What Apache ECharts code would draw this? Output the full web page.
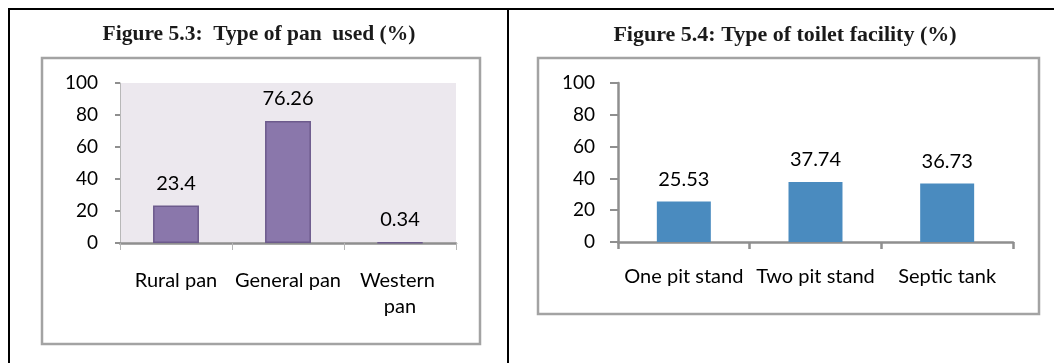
<!DOCTYPE html>
<html>
<head>
<meta charset="utf-8">
<script src="https://cdn.jsdelivr.net/npm/echarts@6/dist/echarts.min.js"></script>
<style>
  html, body { margin: 0; padding: 0; background: #fff; }
  #chart { width: 1054px; height: 363px; }
</style>
</head>
<body>
<div id="chart"></div>
<script>
// Figure 5.3: type of pan used (%)
const panCategories = ['Rural pan', 'General pan', 'Western pan'];
const panValues = [23.4, 76.26, 0.34];

// Figure 5.4: type of toilet facility (%)
const toiletCategories = ['One pit stand', 'Two pit stand', 'Septic tank'];
const toiletValues = [25.53, 37.74, 36.73];

const yTicks = [0, 20, 40, 60, 80, 100];

const labelFont = 'Lato, "Open Sans", sans-serif';
const titleFont = '"Liberation Serif", "DejaVu Serif", serif';
const axisGray = '#8f8f8f';

const chart = echarts.init(document.getElementById('chart'), null, { renderer: 'canvas' });

function valueAxis(gridIndex, opts) {
  return {
    type: 'value',
    gridIndex: gridIndex,
    min: yTicks[0],
    max: yTicks[yTicks.length - 1],
    interval: yTicks[1] - yTicks[0],
    splitLine: { show: false },
    axisLine: { show: true, lineStyle: { color: opts.lineColor, width: opts.lineWidth } },
    axisTick: { show: true, length: opts.tickLen, lineStyle: { color: axisGray, width: 2 } },
    axisLabel: {
      margin: opts.margin,
      color: '#000',
      fontFamily: labelFont,
      fontSize: 19
    }
  };
}

function categoryAxis(gridIndex, data, opts) {
  return {
    type: 'category',
    gridIndex: gridIndex,
    data: data,
    axisLine: { show: true, lineStyle: { color: axisGray, width: 2.5 } },
    axisTick: { show: true, length: 7, lineStyle: { color: opts.tickColor, width: opts.tickWidth } },
    axisLabel: {
      margin: opts.margin,
      color: '#000',
      fontFamily: labelFont,
      fontSize: 20,
      lineHeight: 26,
      width: opts.labelWidth,
      overflow: 'break',
      interval: 0
    }
  };
}

function valueLabel() {
  return {
    show: true,
    position: 'top',
    distance: 12,
    color: '#000',
    fontFamily: labelFont,
    fontSize: 20
  };
}

chart.setOption({
  animation: false,
  grid: [
    { left: 120, right: 598, top: 83, bottom: 120, show: true, backgroundColor: '#ece8ee', borderWidth: 0 },
    { left: 618, right: 41, top: 83, bottom: 121 }
  ],
  xAxis: [
    categoryAxis(0, panCategories, { margin: 25, labelWidth: 110, tickColor: '#b5b5b5', tickWidth: 1 }),
    categoryAxis(1, toiletCategories, { margin: 22, labelWidth: 140, tickColor: axisGray, tickWidth: 2.5 })
  ],
  yAxis: [
    valueAxis(0, { lineColor: '#b8b8b8', lineWidth: 1, tickLen: 5, margin: 22 }),
    valueAxis(1, { lineColor: axisGray, lineWidth: 2.5, tickLen: 8, margin: 23 })
  ],
  series: [
    {
      type: 'bar',
      xAxisIndex: 0,
      yAxisIndex: 0,
      data: panValues,
      barWidth: '41%',
      itemStyle: { color: '#8a77ab', borderColor: '#6c5a8c', borderWidth: 1.5 },
      label: valueLabel()
    },
    {
      type: 'bar',
      xAxisIndex: 1,
      yAxisIndex: 1,
      data: toiletValues,
      barWidth: '41%',
      itemStyle: { color: '#4a8bbf' },
      label: valueLabel()
    }
  ],
  graphic: [
    // table frame
    { type: 'line', shape: { x1: 8, y1: 9, x2: 1054, y2: 9 }, style: { stroke: '#000', lineWidth: 2 } },
    { type: 'line', shape: { x1: 9, y1: 8, x2: 9, y2: 363 }, style: { stroke: '#000', lineWidth: 2 } },
    { type: 'line', shape: { x1: 508, y1: 8, x2: 508, y2: 363 }, style: { stroke: '#000', lineWidth: 2 } },
    // chart boxes
    { type: 'rect', shape: { x: 42, y: 58, width: 438, height: 286 }, style: { fill: 'none', stroke: '#a3a3a3', lineWidth: 2.5 } },
    { type: 'rect', shape: { x: 538, y: 58, width: 501, height: 256 }, style: { fill: 'none', stroke: '#a3a3a3', lineWidth: 2.5 } },
    // figure titles
    {
      type: 'text', x: 259, y: 34,
      style: { text: 'Figure 5.3:  Type of pan  used (%)', fill: '#1a1a1a', font: 'bold 21.5px ' + titleFont, textAlign: 'center', textVerticalAlign: 'middle' }
    },
    {
      type: 'text', x: 785, y: 35,
      style: { text: 'Figure 5.4: Type of toilet facility (%)', fill: '#1a1a1a', font: 'bold 22px ' + titleFont, textAlign: 'center', textVerticalAlign: 'middle' }
    }
  ]
});
</script>
</body>
</html>
